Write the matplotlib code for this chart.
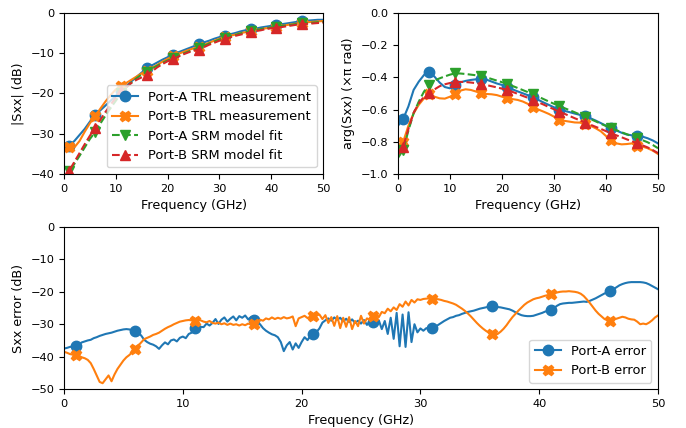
import numpy as np
import matplotlib
matplotlib.use("Agg")
import matplotlib.pyplot as plt
from matplotlib.ticker import MultipleLocator

# ── Data ──────────────────────────────────────────────────────────────────────
freq = np.arange(0, 51, 1.0)          # top panels, 1 GHz steps
freq_err = np.arange(0, 50.01, 0.25)  # bottom panel, 0.25 GHz steps

mag_a_trl = [-33.0, -33.0, -31.8, -30.3, -28.8, -27.0, -25.3, -24.2, -23.0, -21.8,
             -20.6, -19.4, -18.2, -17.0, -15.9, -14.8, -13.7, -13.0, -12.3, -11.6,
             -11.0, -10.4, -9.8, -9.3, -8.8, -8.3, -7.8, -7.3, -6.9, -6.4,
             -6.0, -5.6, -5.3, -5.0, -4.6, -4.3, -4.1, -3.9, -3.6, -3.4,
             -3.2, -3.0, -2.8, -2.6, -2.4, -2.2, -2.0, -1.9, -1.8, -1.7, -1.7]
mag_b_trl = [-33.0, -33.2, -33.4, -31.8, -29.5, -27.4, -25.6, -23.8, -22.0, -20.4,
             -19.0, -18.2, -17.4, -16.6, -15.8, -15.0, -14.4, -13.6, -12.9, -12.1,
             -11.4, -10.7, -10.2, -9.7, -9.2, -8.8, -8.4, -7.9, -7.4, -6.9,
             -6.4, -6.0, -5.7, -5.4, -5.0, -4.8, -4.5, -4.3, -4.0, -3.8,
             -3.6, -3.4, -3.2, -3.0, -2.8, -2.6, -2.4, -2.3, -2.2, -2.1, -2.0]
mag_a_srm = [-41.0, -39.3, -37.5, -35.5, -33.4, -31.3, -29.6, -27.5, -25.5, -23.6,
             -21.8, -20.0, -18.6, -17.3, -16.2, -15.3, -14.6, -13.8, -13.1, -12.4,
             -11.8, -11.3, -10.7, -10.1, -9.6, -9.1, -8.7, -8.2, -7.6, -7.1,
             -6.6, -6.1, -5.8, -5.5, -5.1, -4.8, -4.6, -4.3, -4.0, -3.8,
             -3.6, -3.4, -3.2, -3.1, -2.9, -2.7, -2.6, -2.5, -2.4, -2.3, -2.2]
mag_b_srm = [-41.0, -39.2, -37.0, -34.8, -32.6, -30.5, -28.6, -26.6, -24.6, -22.8,
             -21.0, -19.5, -18.4, -17.4, -16.6, -16.0, -15.4, -14.5, -13.5, -12.7,
             -12.0, -11.5, -10.9, -10.3, -9.8, -9.4, -9.1, -8.5, -7.9, -7.4,
             -6.9, -6.5, -6.1, -5.7, -5.4, -5.1, -4.8, -4.5, -4.3, -4.0,
             -3.8, -3.7, -3.5, -3.3, -3.1, -2.9, -2.8, -2.7, -2.6, -2.5, -2.4]

arg_a_trl = [-0.70, -0.658, -0.58, -0.478, -0.426, -0.385, -0.368, -0.395, -0.432, -0.46,
             -0.468, -0.447, -0.431, -0.422, -0.416, -0.412, -0.41, -0.414, -0.426, -0.438,
             -0.447, -0.462, -0.474, -0.487, -0.499, -0.511, -0.524, -0.54, -0.556, -0.571,
             -0.586, -0.60, -0.608, -0.616, -0.625, -0.633, -0.64, -0.654, -0.668, -0.684,
             -0.70, -0.716, -0.73, -0.744, -0.755, -0.76, -0.762, -0.768, -0.778, -0.792, -0.81]
arg_b_trl = [-0.86, -0.80, -0.70, -0.623, -0.57, -0.53, -0.503, -0.52, -0.53, -0.532,
             -0.52, -0.503, -0.482, -0.474, -0.478, -0.488, -0.499, -0.503, -0.505, -0.51,
             -0.52, -0.53, -0.535, -0.54, -0.55, -0.565, -0.586, -0.60, -0.613, -0.627,
             -0.644, -0.665, -0.67, -0.675, -0.68, -0.681, -0.69, -0.70, -0.716, -0.735,
             -0.764, -0.789, -0.81, -0.816, -0.814, -0.81, -0.824, -0.83, -0.84, -0.855, -0.876]
arg_a_srm = [-0.90, -0.85, -0.73, -0.623, -0.55, -0.488, -0.447, -0.42, -0.406, -0.394,
             -0.383, -0.375, -0.376, -0.379, -0.383, -0.387, -0.39, -0.40, -0.41, -0.42,
             -0.43, -0.441, -0.453, -0.466, -0.479, -0.492, -0.505, -0.52, -0.535, -0.55,
             -0.564, -0.578, -0.591, -0.604, -0.617, -0.631, -0.644, -0.659, -0.673, -0.688,
             -0.702, -0.716, -0.728, -0.741, -0.753, -0.766, -0.778, -0.79, -0.803, -0.82, -0.84]
arg_b_srm = [-0.88, -0.83, -0.72, -0.62, -0.56, -0.52, -0.495, -0.475, -0.455, -0.443,
             -0.435, -0.43, -0.428, -0.429, -0.432, -0.436, -0.441, -0.448, -0.455, -0.462,
             -0.47, -0.478, -0.49, -0.502, -0.515, -0.527, -0.54, -0.555, -0.569, -0.584,
             -0.598, -0.613, -0.626, -0.64, -0.654, -0.667, -0.681, -0.694, -0.707, -0.72,
             -0.734, -0.747, -0.76, -0.772, -0.785, -0.797, -0.81, -0.822, -0.835, -0.852, -0.87]

# one row per GHz (f, f+.25, f+.5, f+.75)
err_a = [-37.5, -37.3, -37.0, -36.9,
         -36.7, -36.2, -35.6, -35.3,
         -35.0, -34.8, -34.3, -34.0,
         -33.6, -33.3, -33.0, -32.8,
         -32.6, -32.3, -32.0, -31.8,
         -31.6, -31.5, -31.6, -31.9,
         -32.2, -32.6, -33.5, -34.8,
         -35.5, -36.0, -36.3, -36.8,
         -37.6, -36.5, -35.6, -36.2,
         -35.0, -34.7, -35.3, -34.2,
         -33.8, -34.3, -33.0, -32.6,
         -31.3, -31.6, -30.8, -30.9,
         -29.8, -30.4, -29.6, -28.4,
         -29.9, -28.6, -27.9, -29.2,
         -28.3, -27.6, -28.8, -27.5,
         -28.0, -27.3, -28.5, -27.8,
         -28.6, -29.3, -30.0, -31.2,
         -32.0, -32.6, -33.1, -33.4,
         -34.0, -35.5, -38.3, -36.5,
         -35.5, -37.8, -35.9, -37.3,
         -35.5, -34.0, -34.9, -33.5,
         -33.1, -32.4, -31.3, -29.5,
         -28.8, -28.2, -28.9, -27.9,
         -28.6, -28.0, -29.1, -28.3,
         -29.3, -28.5, -29.6, -28.9,
         -29.8, -28.7, -30.2, -29.0,
         -29.4, -30.5, -28.8, -31.5,
         -29.0, -33.0, -28.0, -34.5,
         -26.5, -36.8, -27.0, -37.0,
         -26.3, -35.5, -30.0, -32.5,
         -31.3, -32.0, -31.2, -31.6,
         -31.3, -30.8, -30.2, -29.6,
         -29.0, -28.5, -28.0, -27.8,
         -27.4, -27.2, -26.8, -26.5,
         -26.2, -26.0, -25.8, -25.5,
         -25.2, -25.0, -24.8, -24.6,
         -24.5, -24.6, -24.7, -24.8,
         -25.0, -25.2, -25.4, -25.8,
         -26.3, -26.8, -27.2, -27.4,
         -27.5, -27.5, -27.4, -27.1,
         -26.8, -26.5, -26.1, -25.8,
         -25.5, -25.0, -24.3, -23.8,
         -23.6, -23.5, -23.4, -23.4,
         -23.3, -23.2, -23.1, -23.0,
         -23.1, -22.8, -22.4, -22.0,
         -21.5, -21.0, -20.5, -20.2,
         -19.8, -19.2, -18.6, -18.0,
         -17.6, -17.3, -17.1, -17.0,
         -17.0, -17.0, -17.0, -17.1,
         -17.3, -17.7, -18.2, -18.7,
         -19.2]
err_b = [-38.5, -38.8, -39.2, -39.4,
         -39.5, -39.8, -40.2, -40.5,
         -41.0, -42.0, -43.8, -45.8,
         -47.8, -48.2, -47.0, -45.8,
         -47.6, -45.5, -43.8, -42.5,
         -41.2, -40.2, -39.5, -38.6,
         -37.5, -36.6, -35.6, -34.6,
         -34.2, -33.8, -33.3, -33.0,
         -32.6, -32.0, -31.4, -30.9,
         -30.5, -30.0, -29.6, -29.2,
         -29.0, -28.8, -28.7, -28.8,
         -28.9, -28.6, -28.8, -29.2,
         -29.4, -29.0, -29.6, -29.8,
         -29.5, -30.0, -29.7, -30.2,
         -29.8, -30.2, -30.0, -30.4,
         -30.0, -30.3, -29.8, -30.1,
         -29.9, -29.5, -28.6, -28.9,
         -28.2, -28.5, -27.9, -28.4,
         -28.0, -28.3, -27.8, -28.2,
         -28.0, -27.6, -30.6, -28.2,
         -27.8, -27.4, -28.1, -27.6,
         -27.5, -27.3, -27.0, -28.4,
         -27.2, -29.6, -27.8, -30.5,
         -27.5, -31.2, -28.0, -30.8,
         -27.8, -31.5, -29.0, -30.6,
         -27.4, -29.8, -28.2, -28.6,
         -27.5, -26.8, -27.8, -26.2,
         -26.6, -25.2, -26.0, -24.8,
         -25.6, -23.8, -24.6, -23.0,
         -24.2, -22.5, -23.3, -22.3,
         -22.5, -22.2, -22.1, -22.0,
         -22.1, -22.2, -22.3, -22.5,
         -22.8, -23.0, -23.3, -23.6,
         -24.0, -24.6, -25.2, -25.9,
         -26.7, -27.6, -28.6, -29.6,
         -30.5, -31.3, -32.0, -32.6,
         -33.0, -33.3, -33.0, -32.3,
         -31.4, -30.3, -29.0, -27.8,
         -26.8, -25.8, -24.9, -24.0,
         -23.3, -22.8, -22.3, -22.0,
         -21.8, -21.5, -21.2, -21.0,
         -20.8, -20.5, -20.2, -20.0,
         -19.9, -19.9, -19.8, -19.9,
         -20.0, -20.2, -20.6, -21.3,
         -22.3, -23.4, -24.6, -25.8,
         -26.8, -27.6, -28.4, -28.8,
         -28.9, -28.6, -28.3, -28.0,
         -27.7, -27.9, -28.3, -28.5,
         -28.6, -29.2, -30.0, -29.8,
         -30.0, -29.5, -28.8, -27.9,
         -27.3]

# ── Style ─────────────────────────────────────────────────────────────────────
plt.rcParams.update({
    "xtick.labelsize": 8.2,
    "ytick.labelsize": 8.2,
    "axes.labelsize": 9.2,
    "legend.fontsize": 9.4,
    "lines.linewidth": 1.5,
})

fig = plt.figure(figsize=(6.86, 4.28), dpi=100)
ax1 = fig.add_axes([0.0933, 0.5935, 0.3776, 0.3762])
ax2 = fig.add_axes([0.5802, 0.5935, 0.3790, 0.3762])
ax3 = fig.add_axes([0.0933, 0.0910, 0.8659, 0.3786])

ms = 7.5
me_top = (1, 5)
ax1.plot(freq, mag_a_trl, "-", marker="o", ms=ms, markevery=me_top, label="Port-A TRL measurement")
ax1.plot(freq, mag_b_trl, "-", marker="X", ms=ms, markevery=me_top, label="Port-B TRL measurement")
ax1.plot(freq, mag_a_srm, "--", marker="v", ms=ms, markevery=me_top, label="Port-A SRM model fit")
ax1.plot(freq, mag_b_srm, "--", marker="^", ms=ms, markevery=me_top, label="Port-B SRM model fit")
ax1.set_xlim(0, 50)
ax1.set_ylim(-40, 0)
ax1.yaxis.set_major_locator(MultipleLocator(10))
ax1.set_xlabel("Frequency (GHz)")
ax1.set_ylabel("|Sxx| (dB)")
ax1.legend(loc="lower right")

ax2.plot(freq, arg_a_trl, "-", marker="o", ms=ms, markevery=me_top)
ax2.plot(freq, arg_b_trl, "-", marker="X", ms=ms, markevery=me_top)
ax2.plot(freq, arg_a_srm, "--", marker="v", ms=ms, markevery=me_top)
ax2.plot(freq, arg_b_srm, "--", marker="^", ms=ms, markevery=me_top)
ax2.set_xlim(0, 50)
ax2.set_ylim(-1.0, 0.0)
ax2.yaxis.set_major_locator(MultipleLocator(0.2))
ax2.set_xlabel("Frequency (GHz)")
ax2.set_ylabel("arg(Sxx) (×π rad)")

me_err = (4, 20)
ax3.plot(freq_err, err_a, "-", marker="o", ms=ms, markevery=me_err, label="Port-A error")
ax3.plot(freq_err, err_b, "-", marker="X", ms=ms, markevery=me_err, label="Port-B error")
ax3.set_xlim(0, 50)
ax3.set_ylim(-50, 0)
ax3.yaxis.set_major_locator(MultipleLocator(10))
ax3.set_xlabel("Frequency (GHz)")
ax3.set_ylabel("Sxx error (dB)")
ax3.legend(loc="lower right")

fig.savefig("out.png", dpi=100)
